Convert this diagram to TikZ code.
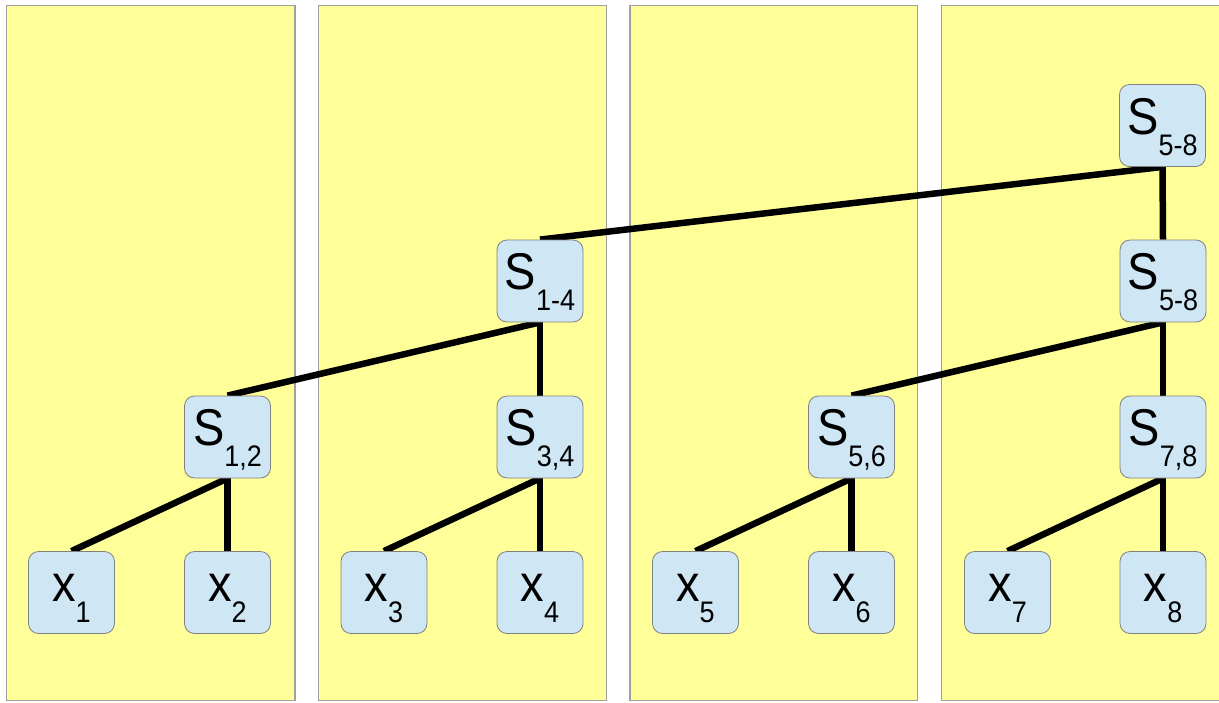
\documentclass[tikz,border=0pt]{standalone}
\usepackage{fontspec}
\setmainfont{Liberation Sans}
\definecolor{paneyellow}{RGB}{255,255,153}
\definecolor{boxblue}{RGB}{207,230,244}
\definecolor{boxedge}{RGB}{128,128,128}
\definecolor{paneedge}{RGB}{160,160,160}
\pgfdeclarelayer{panels}
\pgfdeclarelayer{links}
\pgfsetlayers{panels,links,main}
\newcommand\mylbl[2]{\scalebox{1}[1.1]{\fontsize{47}{47}\selectfont #1}\raisebox{-21pt}{\scalebox{1}[1.1]{\fontsize{27}{27}\selectfont #2}}}
\tikzset{
  box/.style={draw=boxedge, line width=0.8pt, fill=boxblue, rounded corners=10pt,
    minimum width=86pt, minimum height=82pt, inner sep=0pt,
    text height=20pt, text depth=3pt},
  link/.style={line width=6.5pt, draw=black},
  panel/.style={fill=paneyellow, draw=paneedge, line width=1.5pt}
}
\begin{document}
\begin{tikzpicture}[x=1pt,y=-1pt]
\useasboundingbox (0,0) rectangle (1219,702);
\clip (0,0) rectangle (1219,702);
\begin{pgfonlayer}{panels}
  \draw[panel] (6.5,5.5) rectangle (295,700.5);
  \draw[panel] (318.5,5.5) rectangle (606.5,700.5);
  \draw[panel] (630,5.5) rectangle (917.5,700.5);
  \draw[panel] (941.5,5.5) rectangle (1240,700.5);
\end{pgfonlayer}
% leaves
\node[box] (x1) at (71.5,592.5) {\mylbl{x}{1}};
\node[box] (x2) at (227.5,592.5) {\mylbl{x}{2}};
\node[box] (x3) at (384,592.5) {\mylbl{x}{3}};
\node[box] (x4) at (540,592.5) {\mylbl{x}{4}};
\node[box] (x5) at (695.5,592.5) {\mylbl{x}{5}};
\node[box] (x6) at (851.5,592.5) {\mylbl{x}{6}};
\node[box] (x7) at (1007.5,592.5) {\mylbl{x}{7}};
\node[box] (x8) at (1163,592.5) {\mylbl{x}{8}};
% pairs
\node[box] (s12) at (227.5,437) {\mylbl{S}{1,2}};
\node[box] (s34) at (540,437) {\mylbl{S}{3,4}};
\node[box] (s56) at (851.5,437) {\mylbl{S}{5,6}};
\node[box] (s78) at (1163,437) {\mylbl{S}{7,8}};
% quads
\node[box] (s14) at (540,281) {\mylbl{S}{1-4}};
\node[box] (s58a) at (1163,281) {\mylbl{S}{5-8}};
% top
\node[box] (s58b) at (1162.5,125.5) {\mylbl{S}{5-8}};
\begin{pgfonlayer}{links}
  \draw[link] (s12.south) -- (x1.north);
  \draw[link] (s12.south) -- (x2.north);
  \draw[link] (s34.south) -- (x3.north);
  \draw[link] (s34.south) -- (x4.north);
  \draw[link] (s56.south) -- (x5.north);
  \draw[link] (s56.south) -- (x6.north);
  \draw[link] (s78.south) -- (x7.north);
  \draw[link] (s78.south) -- (x8.north);
  \draw[link] (s14.south) -- (s12.north);
  \draw[link] (s14.south) -- (s34.north);
  \draw[link] (s58a.south) -- (s56.north);
  \draw[link] (s58a.south) -- (s78.north);
  \draw[link] (s58b.south) -- (s14.north);
  \draw[link] (s58b.south) -- (s58a.north);
\end{pgfonlayer}
\end{tikzpicture}
\end{document}
